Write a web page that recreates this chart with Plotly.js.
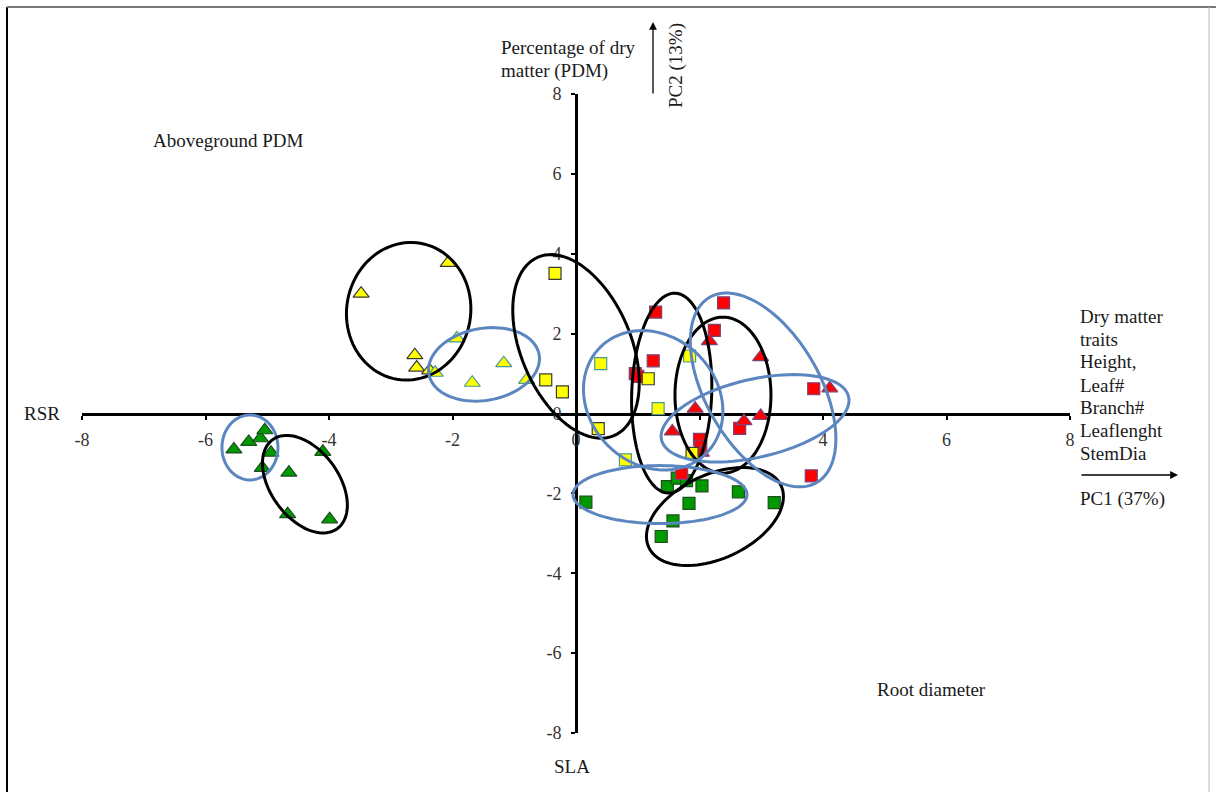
<!DOCTYPE html>
<html>
<head>
<meta charset="utf-8">
<script src="https://cdn.plot.ly/plotly-3.0.1.min.js"></script>
<style>html,body{margin:0;padding:0;background:#fff;}#chart{width:1216px;height:792px;}</style>
</head>
<body>
<div id="chart"></div>
<script>
// ---- data (PC1, PC2 scores) ----
var yellowTriBlackX = [-3.48, -2.07, -2.61, -2.58, -2.37];
var yellowTriBlackY = [3.00, 3.77, 1.46, 1.15, 1.08];
var yellowTriBlueX = [-2.28, -1.93, -1.68, -1.17, -0.80];
var yellowTriBlueY = [1.02, 1.88, 0.77, 1.26, 0.84];
var yellowSqBlackX = [-0.34, -0.49, -0.22, 0.36, 1.17, 1.88];
var yellowSqBlackY = [3.51, 0.84, 0.54, -0.38, 0.87, -1.00];
var yellowSqBlueX = [0.40, 0.80, 1.33, 1.84];
var yellowSqBlueY = [1.25, -1.16, 0.12, 1.44];
var redSqX = [1.29, 1.25, 0.96, 1.00, 2.24, 2.39, 3.85, 2.65, 2.00, 2.02, 3.81, 1.71];
var redSqY = [2.54, 1.32, 1.00, 0.93, 2.08, 2.77, 0.62, -0.37, -0.65, -0.82, -1.56, -1.50];
var redTriX = [2.16, 2.99, 4.11, 1.93, 2.72, 2.99, 1.56, 2.03];
var redTriY = [1.81, 1.41, 0.63, 0.12, -0.19, -0.06, -0.45, -0.98];
var greenSqX = [0.16, 1.48, 1.64, 1.79, 2.04, 2.63, 1.83, 1.57, 1.38, 3.21];
var greenSqY = [-2.22, -1.83, -1.62, -1.68, -1.81, -1.96, -2.25, -2.69, -3.08, -2.23];
var greenTriX = [-5.54, -5.30, -5.11, -5.04, -4.94, -5.08, -4.65, -4.10, -4.67, -3.99];
var greenTriY = [-0.90, -0.71, -0.62, -0.42, -0.98, -1.36, -1.48, -0.96, -2.52, -2.65];
var tickVals = [-8, -6, -4, -2, 0, 2, 4, 6, 8];
var tickText = ['-8', '-6', '-4', '-2', '0', '2', '4', '6', '8'];

// ---- group ellipses: centre in data units, semi-axes in px, angle in degrees ----
var ellCX = [-2.71, -1.49, -5.28, -4.39, 0.00, 1.55, 2.38, 2.25, 1.25, 1.36, 3.03, 2.90];
var ellCY = [2.56, 1.23, -0.85, -1.77, 1.68, 0.51, 0.46, -2.58, 0.33, -2.03, 0.59, -0.12];
var ellA = [69, 56, 32.5, 55, 97, 100, 78, 73, 75, 87, 107, 96];
var ellB = [62, 36, 28, 34, 55, 40, 48, 42, 64, 29, 57, 39];
var ellAng = [80, 10, 90, -54, -67, 88, 90, 25, -45, 0, -60, 13];
var ellKind = ['k', 'b', 'b', 'k', 'k', 'k', 'k', 'k', 'b', 'b', 'b', 'b'];

// ---- layout geometry ----
var W = 1216, H = 792;
var mL = 82, mR = 146, mT = 94, mB = 59;
var plotW = W - mL - mR, plotH = H - mT - mB;
var sx = plotW / 16, sy = plotH / 16;
function px2x(p) { return (p - mL) / plotW; }
function py2y(p) { return (H - mB - p) / plotH; }

var serif = 'Liberation Serif, Times New Roman, serif';
var txtFont = {family: serif, size: 19, color: '#1a1a1a'};

function mk(x, y, sym, fill, line, size) {
  return {x: x, y: y, type: 'scatter', mode: 'markers', hoverinfo: 'skip',
    marker: {symbol: sym, color: fill, size: size, line: {color: line, width: 1.2}}};
}
var data = [
  mk(greenSqX, greenSqY, 'square', '#009a00', '#1d4d1d', 12),
  mk(redSqX, redSqY, 'square', '#ff0000', '#7a4478', 12),
  mk(redTriX, redTriY, 'triangle-up', '#ff0000', '#7a4478', 14),
  mk(yellowSqBlackX, yellowSqBlackY, 'square', '#ffff00', '#3a3a3a', 12),
  mk(yellowSqBlueX, yellowSqBlueY, 'square', '#ffff00', '#4a9a94', 12),
  mk(greenTriX, greenTriY, 'triangle-up', '#009a00', '#1d4d1d', 14),
  mk(yellowTriBlackX, yellowTriBlackY, 'triangle-up', '#ffff00', '#3a3a3a', 14),
  mk(yellowTriBlueX, yellowTriBlueY, 'triangle-up', '#ffff00', '#4a9a94', 14)
];

var shapes = [];
for (var i = 0; i < ellCX.length; i++) {
  var th = ellAng[i] * Math.PI / 180, pts = [];
  for (var k = 0; k <= 96; k++) {
    var t = 2 * Math.PI * k / 96;
    var dx = ellA[i] * Math.cos(t) * Math.cos(th) - ellB[i] * Math.sin(t) * Math.sin(th);
    var dy = ellA[i] * Math.cos(t) * Math.sin(th) + ellB[i] * Math.sin(t) * Math.cos(th);
    pts.push((ellCX[i] + dx / sx).toFixed(4) + ',' + (ellCY[i] + dy / sy).toFixed(4));
  }
  shapes.push({type: 'path', xref: 'x', yref: 'y', layer: 'above',
    path: 'M' + pts.join('L') + 'Z',
    line: {color: ellKind[i] === 'k' ? '#000000' : '#5b86bf', width: 3}});
}
// outer frame
shapes.push({type: 'line', xref: 'paper', yref: 'paper', x0: px2x(7), x1: px2x(7), y0: py2y(7), y1: py2y(792), line: {color: '#000', width: 2}});
shapes.push({type: 'line', xref: 'paper', yref: 'paper', x0: px2x(7), x1: px2x(1216), y0: py2y(7), y1: py2y(7), line: {color: '#777', width: 2}});
shapes.push({type: 'line', xref: 'paper', yref: 'paper', x0: px2x(1209), x1: px2x(1209), y0: py2y(7), y1: py2y(792), line: {color: '#bbb', width: 1}});

function note(text, x, y, xa, extra) {
  var a = {text: text, xref: 'paper', yref: 'paper', x: px2x(x), y: py2y(y), xanchor: xa || 'left', yanchor: 'middle',
    showarrow: false, font: txtFont, align: 'left'};
  for (var k in extra) a[k] = extra[k];
  return a;
}
var annotations = [
  note('Percentage of dry', 499, 47),
  note('matter (PDM)', 499, 71),
  note('PC2 (13%)', 676, 66, 'center', {textangle: -90}),
  note('Aboveground PDM', 151, 140),
  note('RSR', 22, 413),
  note('Root diameter', 875, 689),
  note('SLA', 552, 766),
  note('Dry matter', 1078, 316),
  note('traits', 1078, 339),
  note('Height,', 1078, 362),
  note('Leaf#', 1078, 385),
  note('Branch#', 1078, 407),
  note('Leaflenght', 1078, 430),
  note('StemDia', 1078, 453),
  note('PC1 (37%)', 1078, 499),
  {text: '', xref: 'paper', yref: 'paper', x: px2x(653), y: py2y(22), ax: 0, ay: 73,
    showarrow: true, arrowhead: 2, arrowsize: 1.2, arrowwidth: 1.3, arrowcolor: '#000'},
  {text: '', xref: 'paper', yref: 'paper', x: px2x(1178), y: py2y(475), ax: -98, ay: 0,
    showarrow: true, arrowhead: 2, arrowsize: 1.2, arrowwidth: 1.3, arrowcolor: '#000'}
];

var axisCommon = {range: [-8, 8], tickvals: tickVals, ticktext: tickText, showgrid: false, zeroline: false,
  showline: true, linecolor: '#000', linewidth: 3, ticks: 'outside', ticklen: 4, tickwidth: 2, tickcolor: '#000',
  tickfont: {family: serif, size: 18, color: '#333'}, anchor: 'free', position: 0.5, layer: 'below traces', fixedrange: true};
var xaxis = Object.assign({}, axisCommon, {ticklabelstandoff: 5});
var yaxis = Object.assign({}, axisCommon, {ticklabelstandoff: 6});

var layout = {
  width: W, height: H, margin: {l: mL, r: mR, t: mT, b: mB},
  paper_bgcolor: '#fff', plot_bgcolor: '#fff', showlegend: false, hovermode: false,
  xaxis: xaxis, yaxis: yaxis, shapes: shapes, annotations: annotations
};
Plotly.newPlot('chart', data, layout, {displayModeBar: false, staticPlot: true});
</script>
</body>
</html>
